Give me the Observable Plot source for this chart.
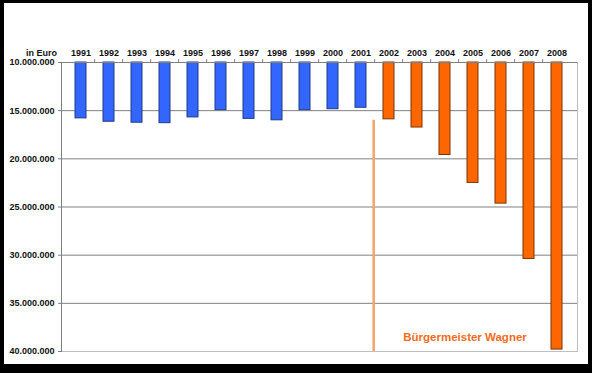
<!DOCTYPE html>
<html>
<head>
<meta charset="utf-8">
<script src="https://cdn.jsdelivr.net/npm/d3@7"></script>
<script src="https://cdn.jsdelivr.net/npm/@observablehq/plot@0.6"></script>
<style>
  html, body { margin: 0; padding: 0; background: #000; }
  #wrap { width: 584px; height: 361px; margin: 0; padding: 3px 4px 9px 4px; background: #000; }
  #chart { width: 584px; height: 361px; background: #fff; }
  #chart svg { display: block; }
</style>
</head>
<body>
<div id="wrap"><div id="chart"></div></div>
<script>
const years = ["1991","1992","1993","1994","1995","1996","1997","1998","1999","2000","2001","2002","2003","2004","2005","2006","2007","2008"];
const values = [15800000, 16150000, 16250000, 16300000, 15700000, 14950000, 15850000, 16000000, 14950000, 14850000, 14700000, 15900000, 16750000, 19600000, 22500000, 24650000, 30400000, 39800000];
const periods = ["vor","vor","vor","vor","vor","vor","vor","vor","vor","vor","vor","Wagner","Wagner","Wagner","Wagner","Wagner","Wagner","Wagner"];
const yTicks = [10000000, 15000000, 20000000, 25000000, 30000000, 35000000, 40000000];
const gridValues = [15000000, 20000000, 25000000, 30000000, 35000000];
const axisUnit = "in Euro";
const annotation = "Bürgermeister Wagner";
const changeYear = "2002";
const changeLineTop = 16000000;
const annotationYear = "2005";
const annotationValue = 38500000;

const data = years.map((y, i) => ({year: y, value: values[i], period: periods[i]}));
const de = d3.formatLocale({decimal: ",", thousands: ".", grouping: [3], currency: ["", " €"]});
const fmt = de.format(",");

const font = "'Liberation Sans', Arial, sans-serif";
const W = 584, H = 361;
const mL = 57, mR = 11, mT = 59, mB = 13;
const step = (W - mL - mR) / years.length;

const chart = Plot.plot({
  width: W,
  height: H,
  marginLeft: mL,
  marginRight: mR,
  marginTop: mT,
  marginBottom: mB,
  style: {fontFamily: font, background: "#fff", overflow: "visible"},
  x: {domain: years, paddingInner: 0.6, paddingOuter: 0.3, axis: null},
  y: {domain: [10000000, 40000000], reverse: true, axis: null},
  color: {domain: ["vor", "Wagner"], range: ["#3366ff", "#ff6600"]},
  marks: [
    Plot.ruleY(gridValues, {stroke: "#808080", strokeWidth: 1}),
    Plot.frame({anchor: "bottom", stroke: "#c0c0c0"}),
    Plot.frame({anchor: "right", stroke: "#c0c0c0"}),
    Plot.ruleX([changeYear], {x: d => d, y1: changeLineTop, y2: 40000000, dx: -step / 2 - 1, stroke: "#f6a36a", strokeWidth: 2.5}),
    Plot.barY(data, {x: "year", y1: 10000000, y2: "value", fill: "period",
      stroke: d => d.period === "vor" ? "#1f3a8a" : "#7a3505", strokeWidth: 1}),
    Plot.ruleY([10000000], {stroke: "#808080", strokeWidth: 1}),
    Plot.ruleX(years.slice(1), {x: d => d, dx: -step / 2, y1: 10000000, y2: 9700000, stroke: "#808080", strokeWidth: 1}),
    Plot.frame({anchor: "left", stroke: "#808080"}),
    Plot.axisY({ticks: yTicks, tickFormat: fmt, tickSize: 3, tickPadding: 4, label: null,
      stroke: "#808080", fill: "#111", fontSize: 9, fontWeight: "bold",
      style: "letter-spacing:-0.6px"}),
    Plot.text(years, {x: d => d, frameAnchor: "top", dy: -13, text: d => d,
      fill: "#111", fontSize: 9, fontWeight: "bold", style: "letter-spacing:-0.8px"}),
    Plot.text([axisUnit], {frameAnchor: "top-left", dx: -20, dy: -13, text: d => d,
      textAnchor: "middle", fill: "#111", fontSize: 9, fontWeight: "bold", style: "letter-spacing:-0.6px"}),
    Plot.text([annotation], {x: () => annotationYear, y: () => annotationValue, dx: -8, text: d => d,
      fill: "#f26b1d", fontSize: 11.5, fontWeight: "bold"})
  ]
});
document.getElementById("chart").appendChild(chart);
</script>
</body>
</html>
